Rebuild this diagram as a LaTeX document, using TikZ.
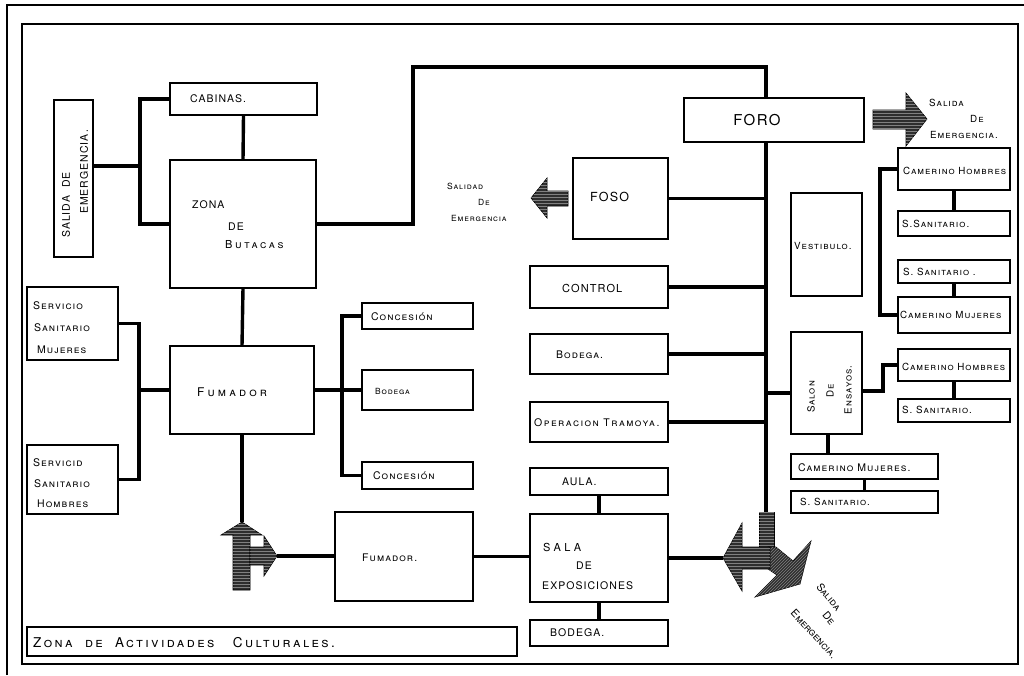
\documentclass[tikz,border=0pt]{standalone}
\usepackage{fontspec}
\usetikzlibrary{patterns}
\setmainfont{TeX Gyre Heros}[LetterSpace=10]
\begin{document}
\begin{tikzpicture}[x=1pt,y=-1pt,
  box/.style={draw,line width=1.5pt,inner sep=0pt,outer sep=0pt},
  conn/.style={line width=3.4pt},
  ctxt/.style={inner sep=0pt,anchor=west,font=\fontsize{10.5}{12}\selectfont},
  bigtxt/.style={inner sep=0pt,anchor=center,font=\fontsize{15}{17}\selectfont},
  sctxt/.style={inner sep=0pt,anchor=west,font=\fontsize{10.5}{12}\selectfont\scshape},
  nartxt/.style={inner sep=0pt,anchor=west,font=\fontsize{9.8}{11}\selectfont\scshape},
  diagtxt/.style={inner sep=0pt,anchor=center,font=\fontsize{10.5}{12}\selectfont\scshape\addfontfeature{LetterSpace=0}},
  widetxt/.style={inner sep=0pt,anchor=west,font=\fontsize{11}{12}\selectfont\scshape\addfontfeature{LetterSpace=24}},
  smtxt/.style={inner sep=0pt,anchor=west,font=\fontsize{8.5}{10}\selectfont\scshape},
  exitarrow/.style={fill=black!82,draw=black,line width=0.6pt},
  hatchh/.style={pattern=horizontal lines,pattern color=black!50},
  hatchd/.style={pattern=north east lines,pattern color=black!50},
  frameline/.style={line width=1.8pt}]
\useasboundingbox (0,0) rectangle (1024,675);
\newcommand\mybox[5]{\node[box,minimum width={(#4-#2)*1pt},minimum height={(#5-#3)*1pt}] (#1) at ({(#2+#4)/2},{(#3+#5)/2}) {};}
% frames
\draw[frameline] (7,675) -- (7,5) -- (1024,5);
\draw[frameline] (22,24) rectangle (1018,664);
% boxes
\mybox{cab}{170}{83}{317}{115}
\mybox{sal1}{54}{100}{93}{257}
\mybox{but}{170}{160}{316}{288}
\mybox{foro}{684}{98}{864}{142}
\mybox{foso}{573}{158}{668}{239}
\mybox{ctrl}{530}{266}{668}{308}
\mybox{bod1}{530}{334}{668}{374}
\mybox{oper}{530}{402}{668}{442}
\mybox{aula}{530}{468}{668}{495}
\mybox{sala}{530}{514}{668}{602}
\mybox{bod2}{530}{620}{668}{646}
\mybox{fum2}{335}{512}{473}{601}
\mybox{fum}{170}{346}{314}{434}
\mybox{ssm}{27}{287}{118}{360}
\mybox{ssh}{27}{445}{118}{514}
\mybox{con1}{362}{303}{473}{329}
\mybox{bodA}{362}{370}{473}{410}
\mybox{con2}{362}{462}{473}{489}
\mybox{vest}{791}{193}{862}{296}
\mybox{ch1}{898}{148}{1010}{190}
\mybox{ss1}{898}{211}{1010}{236}
\mybox{ss2}{898}{260}{1010}{283}
\mybox{cm1}{898}{297}{1010}{333}
\mybox{salon}{791}{332}{862}{434}
\mybox{ch2}{898}{349}{1010}{381}
\mybox{ss3}{898}{399}{1010}{422}
\mybox{cm2}{791}{454}{938}{479}
\mybox{ss4}{791}{491}{938}{513}
\mybox{title}{27}{627}{517}{656}
% connectors
\coordinate (kL1) at (140,166);
\draw[conn] (cab.west) -| (but.west -| kL1) -- (but.west);
\draw[conn] (kL1) -- (kL1 -| sal1.east);
\draw[conn] (cab.south) -- (but.north);
\coordinate (k2) at (413,67);
\coordinate (sp) at (766,67);
\draw[conn] (but.east) -| (k2) -- (sp) -- (sp |- foro.north);
\coordinate (spb) at (766,512);
\draw[conn] (sp |- foro.south) -- (spb);
\draw[conn] (foso.east) -- (foso.east -| sp);
\draw[conn] (ctrl.east) -- (ctrl.east -| sp);
\draw[conn] (bod1.east) -- (bod1.east -| sp);
\draw[conn] (oper.east) -- (oper.east -| sp);
\coordinate (k3) at (766,393);
\draw[conn] (k3) -- (k3 -| salon.west);
\draw[conn] (aula.south) -- (sala.north);
\draw[conn] (sala.south) -- (bod2.north);
\coordinate (ex3) at (723,558);
\draw[conn] (sala.east) -- (ex3);
\draw[conn] (fum2.east) -- (fum2.east -| sala.west);
\coordinate (ex2) at (277,556);
\draw[conn] (ex2) -- (ex2 -| fum2.west);
\draw[conn] (but.south) -- (fum.north);
\coordinate (ex1) at (242,522);
\draw[conn] (fum.south) -- (ex1);
\coordinate (kL2) at (139,390);
\draw[conn] (fum.west) -- (fum.west -| kL2);
\draw[conn] (ssm.east) -| (kL2) |- (ssh.east);
\coordinate (kR2) at (342,390);
\draw[conn] (fum.east) -- (bodA.west);
\draw[conn] (con1.west) -| (kR2) |- (con2.west);
\coordinate (kR3) at (880,240);
\draw[conn] (ch1.west) -| (kR3) |- (cm1.west);
\draw[conn] (ch1.south) -- (ss1.north);
\draw[conn] (ss2.south) -- (cm1.north);
\coordinate (k7) at (883,391);
\draw[conn] (k7 -| salon.east) -- (k7) |- (ch2.west);
\draw[conn] (ch2.south) -- (ss3.north);
\coordinate (k8) at (828,0);
\draw[conn] (salon.south -| k8) -- (cm2.north -| k8);
\draw[conn] (cm2.south) -- (ss4.north);
% exit arrows
\filldraw[exitarrow,postaction={hatchh}] (873,110) -- (906,110) -- (906,93) -- (927,119) -- (906,146) -- (906,129) -- (873,129) -- cycle;
\filldraw[exitarrow,postaction={hatchh}] (568,191) -- (547,191) -- (547,178) -- (531,198) -- (547,218) -- (547,206) -- (568,206) -- cycle;
\filldraw[exitarrow,postaction={hatchh}] (ex1) -- (262,535) -- (250,535) -- (250,590) -- (233,590) -- (233,535) -- (221,535) -- cycle;
\filldraw[exitarrow,postaction={hatchh}] (250,547) -- (264,547) -- (264,536) -- (ex2) -- (264,576) -- (264,565) -- (250,565) -- cycle;
\filldraw[exitarrow,postaction={hatchh}] (759,512) rectangle (774,548);
\filldraw[exitarrow,postaction={hatchd}] (768,547) -- (776,547) -- (793,561) -- (811,541) -- (800,584) -- (755,597) -- (777,575) -- (768,569) -- cycle;
\filldraw[exitarrow,postaction={hatchh}] (ex3) -- (742,523) -- (742,547) -- (770,547) -- (770,569) -- (742,569) -- (742,591) -- cycle;
% texts
\node[ctxt] (tcab) at (190,99) {CABINAS.};
\node[ctxt,anchor=center,rotate=90] (ts1a) at (66,205) {SALIDA\ \ DE};
\node[ctxt,anchor=center,rotate=90] (ts1b) at (84,172) {EMERGENCIA.};
\node[ctxt] (tz1) at (192,205) {ZONA};
\node[ctxt] (tz2) at (228,227) {DE};
\node[widetxt] (tz3) at (225,245) {Butacas};
\node[bigtxt] (tforo) at (757,120) {FORO};
\node[nartxt] (tsf1) at (929,103) {Salida};
\node[nartxt] (tsf2) at (970,119) {De};
\node[nartxt] (tsf3) at (930,135) {Emergencia.};
\node[ctxt,font=\fontsize{12.5}{14}\selectfont] (tfoso) at (590,197) {FOSO};
\node[smtxt] (tso1) at (447,186) {Salidad};
\node[smtxt] (tso2) at (478,202) {De};
\node[smtxt] (tso3) at (451,218) {Emergencia};
\node[ctxt,font=\fontsize{11}{12}\selectfont] (tctrl) at (562,288) {CONTROL};
\node[sctxt] (tbod1) at (556,355) {Bodega.};
\node[sctxt,font=\fontsize{10.5}{12}\selectfont\scshape\addfontfeature{LetterSpace=14}] (toper) at (534,423) {Operacion Tramoya.};
\node[ctxt] (taula) at (562,482) {AULA.};
\node[ctxt,font=\fontsize{11}{12}\selectfont\addfontfeature{LetterSpace=30}] (tsa1) at (543,547) {SALA};
\node[ctxt] (tsa2) at (576,566) {DE};
\node[ctxt] (tsa3) at (542,586) {EXPOSICIONES};
\node[ctxt] (tbod2) at (550,633) {BODEGA.};
\node[sctxt] (tfum2) at (362,558) {Fumador.};
\node[widetxt,font=\fontsize{12}{14}\selectfont\scshape\addfontfeature{LetterSpace=26}] (tfum) at (197,392) {Fumador};
\node[sctxt] (tm1) at (33,306) {Servicio};
\node[sctxt] (tm2) at (34,328) {Sanitario};
\node[sctxt] (tm3) at (37,350) {Mujeres};
\node[sctxt] (th1) at (33,463) {Servicid};
\node[sctxt] (th2) at (34,484) {Sanitario};
\node[sctxt] (th3) at (37,504) {Hombres};
\node[sctxt] (tc1) at (371,317) {Concesión};
\node[smtxt] (tbA) at (375,391) {Bodega};
\node[sctxt] (tc2) at (373,476) {Concesión};
\node[nartxt] (tvest) at (794,246) {Vestibulo.};
\node[nartxt] (tch1) at (903,171) {Camerino Hombres};
\node[nartxt] (tss1) at (902,224) {S.Sanitario.};
\node[nartxt] (tss2) at (903,272) {S. Sanitario .};
\node[nartxt] (tcm1) at (900,315) {Camerino Mujeres};
\node[nartxt,anchor=center,rotate=90] (tsl1) at (811,397) {Salon};
\node[nartxt,anchor=center,rotate=90] (tsl2) at (830,391) {De};
\node[nartxt,anchor=center,rotate=90] (tsl3) at (848,390) {Ensayos.};
\node[nartxt] (tch2) at (902,367) {Camerino Hombres};
\node[nartxt] (tss3) at (902,410) {S. Sanitario.};
\node[sctxt] (tcm2) at (798,468) {Camerino Mujeres.};
\node[nartxt] (tss4) at (800,502) {S. Sanitario.};
\node[diagtxt,rotate=-50] (tse1) at (829,597) {Salida};
\node[diagtxt,rotate=-50] (tse2) at (829,618) {De};
\node[diagtxt,rotate=-47] (tse3) at (814,634) {Emergencia.};
\node[widetxt,font=\fontsize{13.5}{15}\selectfont\scshape\addfontfeature{LetterSpace=18}] (ttitle) at (33,643) {Zona\ \ de\ \ Actividades\ \ \ Culturales.};
\end{tikzpicture}
\end{document}
